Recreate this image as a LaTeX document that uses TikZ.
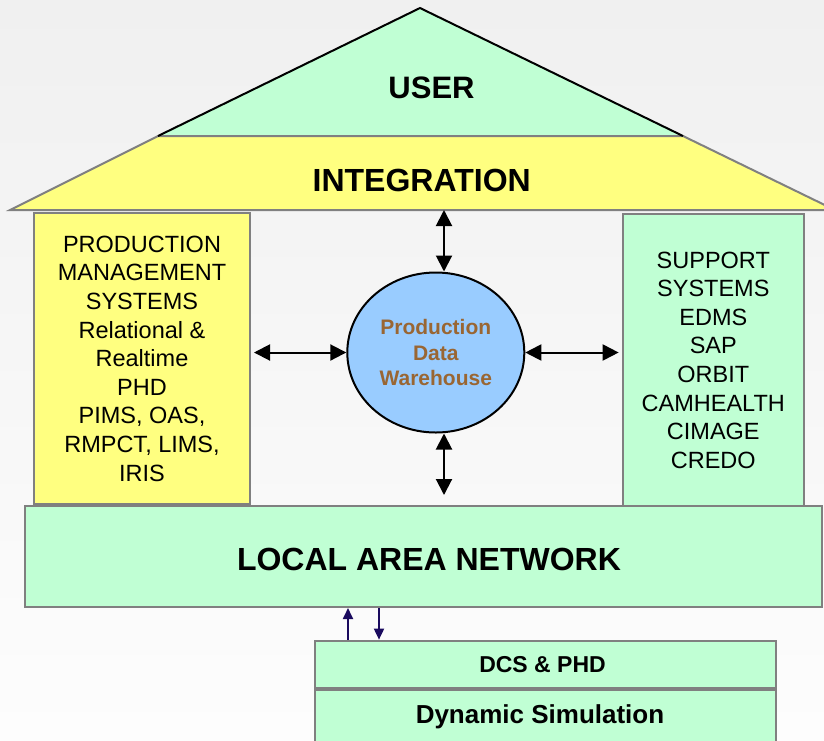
\documentclass[tikz,border=0pt]{standalone}
\usepackage{fontspec}
\setmainfont{Liberation Sans}
\usetikzlibrary{arrows.meta,shapes.geometric,calc}
\definecolor{mint}{HTML}{C0FFD4}
\definecolor{lemon}{HTML}{FFFF80}
\definecolor{sky}{HTML}{99CCFF}
\definecolor{edgegray}{HTML}{808080}
\definecolor{brownish}{HTML}{996633}
\definecolor{navyline}{HTML}{1A0A5E}
\tikzset{
  boxstyle/.style={draw=edgegray, line width=2pt, rectangle, inner sep=0pt},
  bigbold/.style={font=\fontsize{32}{38}\bfseries\selectfont, inner sep=0pt, anchor=base},
  listtext/.style={align=center, font=\fontsize{23.5}{28.6}\selectfont},
  dblarrow/.style={{Triangle[length=16pt,width=16pt]}-{Triangle[length=16pt,width=16pt]}, line width=2pt, black},
  smallarrow/.style={-{Triangle[length=11pt,width=10pt]}, line width=1.8pt, navyline}
}
\begin{document}
\begin{tikzpicture}[x=1pt,y=-1pt]
\useasboundingbox (0,0) rectangle (824,740);
\clip (0,0) rectangle (824,740);
\shade[top color={rgb,255:red,240;green,240;blue,240}, bottom color={rgb,255:red,253;green,253;blue,253}] (0,0) rectangle (824,740);

% roof
\fill[mint] (420,8) -- (683,136) -- (158,136) -- cycle;
\draw[fill=lemon, draw=edgegray, line width=2pt, line join=miter] (158,136) -- (683,136) -- (835,210) -- (10,210) -- cycle;
\draw[black, line width=2pt] (158,136) -- (420,8) -- (683,136);
\node[bigbold, font=\fontsize{31}{37}\bfseries\selectfont] (user) at (431.5,98.3) {USER};
\node[bigbold] (integ) at (421.7,191.7) {INTEGRATION};
\coordinate (roofbase) at (444,210);

% pillars
\node[boxstyle, fill=lemon, minimum width=216pt, minimum height=291pt, listtext] (pms) at (142,358.5)
  {PRODUCTION\\MANAGEMENT\\SYSTEMS\\Relational \&\\Realtime\\PHD\\PIMS, OAS,\\RMPCT, LIMS,\\IRIS};
\node[boxstyle, fill=mint, minimum width=181.3pt, minimum height=292pt, listtext] (sup) at (713.3,360)
  {SUPPORT\\SYSTEMS\\EDMS\\SAP\\ORBIT\\CAMHEALTH\\CIMAGE\\CREDO};

% warehouse
\node[ellipse, draw=black, line width=2pt, fill=sky, minimum width=177pt, minimum height=160pt, inner sep=0pt,
  align=center, text=brownish, font=\fontsize{21}{25.8}\bfseries\selectfont] (pdw) at (435.8,352.5)
  {Production\\Data\\Warehouse};

% LAN
\node[boxstyle, fill=mint, minimum width=797.7pt, minimum height=101pt] (lan) at (423.5,556.5) {};
\node[bigbold] (lantext) at (429,570) {LOCAL AREA NETWORK};

% DCS and simulation
\node[boxstyle, fill=mint, minimum width=460.6pt, minimum height=47.3pt] (dcs) at (545.3,664.3) {};
\node[bigbold, font=\fontsize{23}{28}\bfseries\selectfont] (dcstext) at (542.5,672.7) {DCS \& PHD};
\node[boxstyle, fill=mint, minimum width=460.6pt, minimum height=56pt] (dyn) at (545.3,717.5) {};
\node[bigbold, font=\fontsize{26}{31}\bfseries\selectfont] (dyntext) at (540,723.3) {Dynamic Simulation};

% arrows around warehouse
\draw[dblarrow, shorten <=3pt] (pdw.west -| pms.east) -- (pdw.west);
\draw[dblarrow, shorten >=3pt] (pdw.east) -- (pdw.east -| sup.west);
\draw[dblarrow] (roofbase) -- (roofbase |- pdw.north);
\draw[dblarrow, shorten >=10pt] (roofbase |- pdw.south) -- (roofbase |- lan.north);

% small arrows
\draw[smallarrow] ([xshift=34pt]dcs.north west) -- ([xshift=34pt]dcs.north west |- lan.south);
\draw[smallarrow] ([xshift=65pt]dcs.north west |- lan.south) -- ([xshift=65pt]dcs.north west);
\end{tikzpicture}
\end{document}
